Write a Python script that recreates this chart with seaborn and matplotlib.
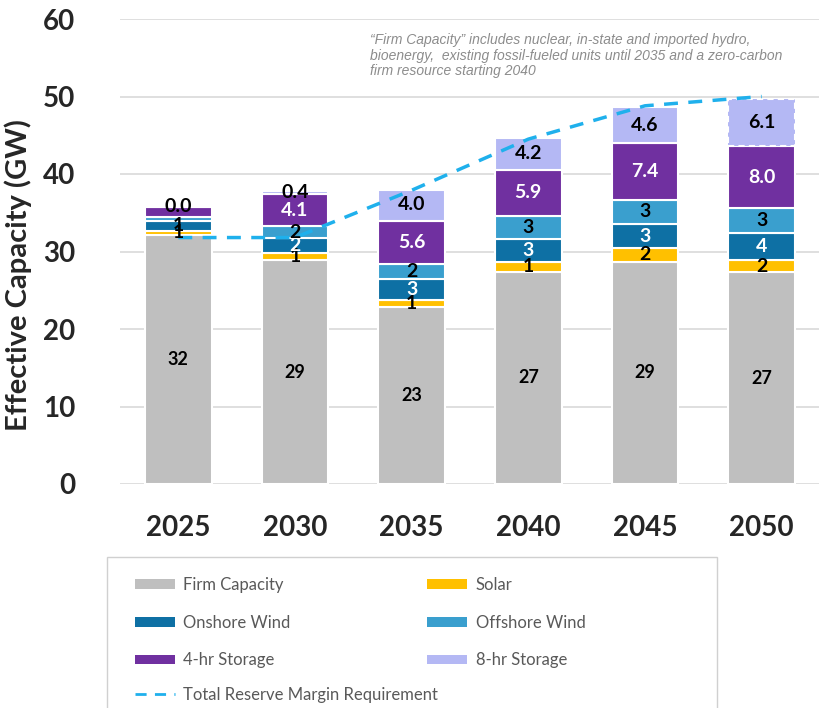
import numpy as np
import pandas as pd
import seaborn as sns
import matplotlib
matplotlib.use("Agg")
import matplotlib.pyplot as plt
from matplotlib.patches import Patch, Rectangle
from matplotlib.lines import Line2D

# data (GW)
years = ["2025", "2030", "2035", "2040", "2045", "2050"]
firm = [32.1, 28.9, 22.8, 27.4, 28.7, 27.3]
solar = [0.6, 0.9, 1.0, 1.2, 1.7, 1.6]
onshore = [1.2, 1.9, 2.6, 3.0, 3.2, 3.5]
offshore = [0.5, 1.6, 2.0, 3.0, 3.0, 3.2]
storage4 = [1.4, 4.1, 5.6, 5.9, 7.4, 8.0]
storage8 = [0.0, 0.4, 4.0, 4.2, 4.6, 6.1]
reserve = [31.8, 31.8, 37.9, 44.5, 48.8, 50.0]

names = ["Firm Capacity", "Solar", "Onshore Wind", "Offshore Wind", "4-hr Storage", "8-hr Storage"]
colors = ["#BFBFBF", "#FFC000", "#0E70A4", "#3A9FCE", "#7030A0", "#B4B8F4"]
txt_colors = ["black", "black", "white", "black", "white", "black"]
fmts = ["{:.0f}", "{:.0f}", "{:.0f}", "{:.0f}", "{:.1f}", "{:.1f}"]
series = [firm, solar, onshore, offshore, storage4, storage8]

sns.set_style("white")
plt.rcParams["font.family"] = ["Lato", "DejaVu Sans"]

fig = plt.figure(figsize=(8.2, 7.08), dpi=100)
ax = fig.add_axes([120 / 820, 1 - 484 / 708, 700 / 820, 465 / 708])

df = pd.DataFrame({"year": years})
bottom = np.zeros(len(years))
for name, vals, col in zip(names, series, colors):
    vals = np.array(vals)
    sns.barplot(x=df["year"], y=vals, bottom=bottom, color=col, width=0.57,
                saturation=1, edgecolor="white", linewidth=1.5, errorbar=None,
                ax=ax, zorder=3)
    bottom = bottom + vals

# dashed outline on the 2050 8-hr block
ax.patches[-1].set_linestyle((0, (3, 2)))

# segment labels
bottom = np.zeros(len(years))
for k, (vals, tc, fm) in enumerate(zip(series, txt_colors, fmts)):
    for i, v in enumerate(vals):
        y = bottom[i] + v / 2
        skip = (i == 0 and k in (3, 4))
        if not skip:
            c = "black" if i == 0 else tc
            fs = 13 if k == 0 else 14
            ax.text(i, y, fm.format(v), ha="center", va="center", color=c,
                    fontsize=fs, fontweight="bold", zorder=5)
    bottom = bottom + np.array(vals)

sns.lineplot(x=np.arange(len(years)), y=reserve, ax=ax, color="#1FB0EC",
             linestyle=(0, (4, 3)), linewidth=2.5, zorder=4)

ax.set_xlim(-0.5, 5.5)
ax.set_ylim(0, 60)
ax.set_yticks(range(0, 61, 10))
ax.yaxis.grid(True, color="#D9D9D9", linewidth=1.2, zorder=0)
ax.set_axisbelow(True)
for s in ax.spines.values():
    s.set_visible(False)
ax.tick_params(axis="y", length=0, pad=32, labelsize=20)
ax.tick_params(axis="x", length=0, pad=22, labelsize=20)
for lab in ax.get_xticklabels() + ax.get_yticklabels():
    lab.set_fontweight("bold")
ax.set_xlabel("")
ax.set_ylabel("Effective Capacity (GW)", fontsize=21, fontweight="bold")
ax.yaxis.set_label_coords(-0.125, 0.45)

fig.text(370 / 820, 1 - 33 / 708,
         "\u201cFirm Capacity\u201d includes nuclear, in-state and imported hydro,\n"
         "bioenergy,  existing fossil-fueled units until 2035 and a zero-carbon\n"
         "firm resource starting 2040",
         ha="left", va="top", fontsize=10, style="italic", color="#8C8C8C",
         family=["Liberation Sans", "DejaVu Sans"], linespacing=1.15)

# legend
order = [0, 2, 4, 1, 3, 5]
handles = [Patch(facecolor=colors[j], edgecolor="none") for j in order]
labels = [names[j] for j in order]
leg1 = fig.legend(handles, labels, ncol=2, loc="upper left",
                  bbox_to_anchor=(120 / 820, 1 - 562 / 708), frameon=False,
                  fontsize=12, labelcolor="#595959", handlelength=2.4,
                  handleheight=0.5, handletextpad=0.5, columnspacing=8.2,
                  labelspacing=1.3)
leg2 = fig.legend([Line2D([], [], color="#1FB0EC", linestyle=(0, (4, 3)), linewidth=2)],
                  ["Total Reserve Margin Requirement"], loc="upper left",
                  bbox_to_anchor=(120 / 820, 1 - 672 / 708), frameon=False,
                  fontsize=12, labelcolor="#595959", handlelength=2.4,
                  handletextpad=0.5)
fig.add_artist(Rectangle((107 / 820, -0.05), 610 / 820, (708 - 557) / 708 + 0.05,
                         transform=fig.transFigure, fill=False,
                         edgecolor="#D0D0D0", linewidth=1))

fig.savefig("out.png", dpi=100)
